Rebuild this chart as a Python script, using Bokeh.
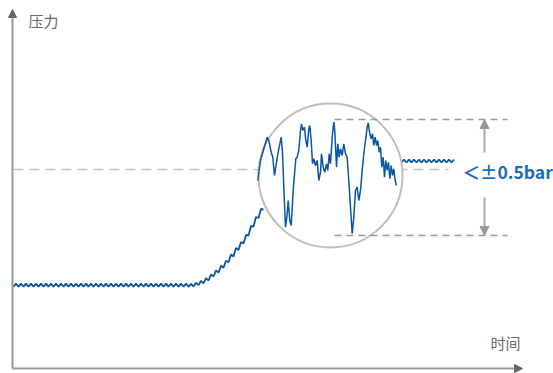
from bokeh.plotting import figure
from bokeh.models import Range1d, Arrow, NormalHead, Label
from bokeh.embed import file_html
from bokeh.resources import INLINE

# ---- data (time units, pressure units) ----
t_main = [13, 15.5, 18, 20.5, 23, 25.5, 28, 30.5, 33, 35.5, 38, 40.5, 43, 45.5, 48, 50.5,
          53, 55.5, 58, 60.5, 63, 65.5, 68, 70.5, 73, 75.5, 78, 80.5, 83, 85.5, 88, 90.5,
          93, 95.5, 98, 100.5, 103, 105.5, 108, 110.5, 113, 115.5, 118, 120.5, 123, 125.5,
          128, 130.5, 133, 135.5, 138, 140.5, 143, 145.5, 148, 150.5, 153, 155.5, 158, 160.5,
          163, 165.5, 168, 170.5, 173, 175.5, 178, 180.5, 183, 185.5, 188,
          190.5, 193, 195.5, 198, 200.5, 203, 205.5, 208, 210.5, 213, 215.5, 218, 220.5, 223,
          225.5, 228, 230.5, 233, 235.5, 238, 240.5, 243, 245.5, 248, 250.5, 253, 255.5, 258,
          260.5, 263]
p_main = [86.7, 89.9, 86.7, 89.9, 86.7, 89.9, 86.7, 89.9, 86.7, 89.9, 86.7, 89.9, 86.7, 89.9,
          86.7, 89.9, 86.7, 89.9, 86.7, 89.9, 86.7, 89.9, 86.7, 89.9, 86.7, 89.9, 86.7, 89.9,
          86.7, 89.9, 86.7, 89.9, 86.7, 89.9, 86.7, 89.9, 86.7, 89.9, 86.7, 89.9, 86.7, 89.9,
          86.7, 89.9, 86.7, 89.9, 86.7, 89.9, 86.7, 89.9, 86.7, 89.9, 86.7, 89.9, 86.7, 89.9,
          86.7, 89.9, 86.7, 89.9, 86.7, 89.9, 86.7, 89.9, 86.7, 89.9, 86.7, 89.9, 86.7, 89.9,
          86.7,
          89.7, 87.1, 90.7, 88.4, 92.5, 90.1, 95.3, 93.0, 99.0, 97.0, 103.2, 100.8, 107.8, 105.7,
          112.8, 111.2, 118.9, 117.1, 125.4, 123.6, 131.5, 130.0, 138.5, 138.0, 147.5, 147.0,
          156.5, 155.5, 164.5, 164.0]

t_zoom = [257.3, 260, 263.3, 266.7, 268.3, 270.7, 272.3, 274, 276, 278.3, 280.7, 282, 283.3,
          285, 286.7, 287.7, 289.3, 290.7, 292.7, 294.3, 295.3, 296.7, 298.3, 300, 301, 302.3,
          304, 305.3, 306.7, 308.3, 309.3, 310.7, 312, 313.3, 315, 316.7, 318.3, 320, 321,
          322.7, 324.3, 326, 327.3, 328.7, 330, 331.7, 333.3, 334.3, 336, 337.3, 338.7, 340,
          341.7, 343.3, 345, 346.7, 348.3, 350, 351.7, 353.3, 355, 356.7, 358.3, 360, 361.7,
          363.3, 365, 366.7, 367.7, 369.3, 370.7, 372, 373.3, 374.7, 376, 377.3, 378.7, 380,
          381.3, 382.7, 384, 385.3, 386.7, 388, 389.3, 390.7, 392, 393.3, 394.7, 396]
p_zoom = [193, 213, 224.7, 236.3, 233, 221.3, 216.3, 198, 211.3, 224.7, 236.3, 221.3, 186.3,
          146.3, 159.7, 173, 153, 148, 183, 203, 214.7, 216.3, 223, 243, 249.7, 243, 246.3,
          233, 226.3, 244.7, 248, 233, 209.7, 214.7, 208, 213, 193, 201.3, 219.7, 206.3, 201.3,
          209.7, 203, 219.7, 209.7, 236.3, 251.3, 243, 206.3, 229.7, 216.3, 224.7, 218, 229.7,
          219.7, 216.3, 193, 166.3, 139.7, 156.3, 183, 186.3, 173, 183, 203, 219.7, 233, 246.3,
          250.7, 239.7, 234.7, 239.7, 228, 236.3, 228, 233, 221.3, 226.3, 206.3, 216.3, 196.3,
          213, 203, 211.3, 194.7, 208, 198, 204.7, 193, 188]

t_hold = [401, 403.5, 406, 408.5, 411, 413.5, 416, 418.5, 421, 423.5, 426, 428.5, 431, 433.5,
          436, 438.5, 441, 443.5, 446, 448.5, 451, 453.5]
p_hold = [211, 213.8, 211, 213.8, 211, 213.8, 211, 213.8, 211, 213.8, 211, 213.8, 211, 213.8,
          211, 213.8, 211, 213.8, 211, 213.8, 211, 213.8]

target = 204
band_hi = 254
band_lo = 138
t_axis = [12, 522]
p_axis = [5, 364]
ref_t = [13, 448]
band_t = [334, 507]
lens_t, lens_p, lens_r = 330, 198, 72
arrow_t = 484

LINE_BLUE = "#0b55a7"
TEXT_BLUE = "#1a6bbd"
GRAY = "#999999"

p = figure(width=553, height=373, x_range=Range1d(0, 553), y_range=Range1d(0, 373),
           output_backend="svg", toolbar_location=None, min_border=0)
p.axis.visible = False
p.grid.visible = False
p.outline_line_color = None
p.background_fill_color = "white"
p.border_fill_color = "white"

p.add_layout(Arrow(end=NormalHead(size=8, fill_color="#666666", line_color="#666666"),
                   x_start=t_axis[0], y_start=p_axis[0], x_end=t_axis[0], y_end=p_axis[1],
                   line_color=GRAY, line_width=2))
p.add_layout(Arrow(end=NormalHead(size=8, fill_color="#666666", line_color="#666666"),
                   x_start=t_axis[0], y_start=p_axis[0], x_end=t_axis[1], y_end=p_axis[0],
                   line_color=GRAY, line_width=2))

p.line(ref_t, [target, target], line_color="#c4c4c4", line_width=1.5, line_dash="10 6")
p.line(t_main, p_main, line_color=LINE_BLUE, line_width=1.8)
p.line(t_hold, p_hold, line_color=LINE_BLUE, line_width=1.8)
p.circle([lens_t], [lens_p], radius=lens_r, fill_color="white", line_color="#bdbdbd",
         line_width=2)
p.line(band_t, [band_hi, band_hi], line_color=GRAY, line_width=1.5, line_dash="7 5")
p.line(band_t, [band_lo, band_lo], line_color=GRAY, line_width=1.5, line_dash="7 5")
p.line(t_zoom, p_zoom, line_color=LINE_BLUE, line_width=1.5)

p.add_layout(Arrow(end=NormalHead(size=9, fill_color=GRAY, line_color=GRAY),
                   x_start=arrow_t, y_start=target + 17, x_end=arrow_t, y_end=band_hi,
                   line_color="#aaaaaa", line_width=2))
p.add_layout(Arrow(end=NormalHead(size=9, fill_color=GRAY, line_color=GRAY),
                   x_start=arrow_t, y_start=target - 28, x_end=arrow_t, y_end=band_lo,
                   line_color="#aaaaaa", line_width=2))

p.add_layout(Label(x=28, y=353, text="压力", text_font="Noto Sans CJK SC",
                   text_font_size="15px", text_color="#6a6a6a", text_baseline="middle"))
p.add_layout(Label(x=490, y=31, text="时间", text_font="Noto Sans CJK SC",
                   text_font_size="15px", text_color="#6a6a6a", text_baseline="middle"))
p.add_layout(Label(x=462, y=202, text="＜±0.5bar", text_font="Noto Sans CJK SC",
                   text_font_size="17.5px", text_font_style="bold", text_color=TEXT_BLUE,
                   text_baseline="middle"))

open("out.html", "w").write(file_html(p, INLINE))
